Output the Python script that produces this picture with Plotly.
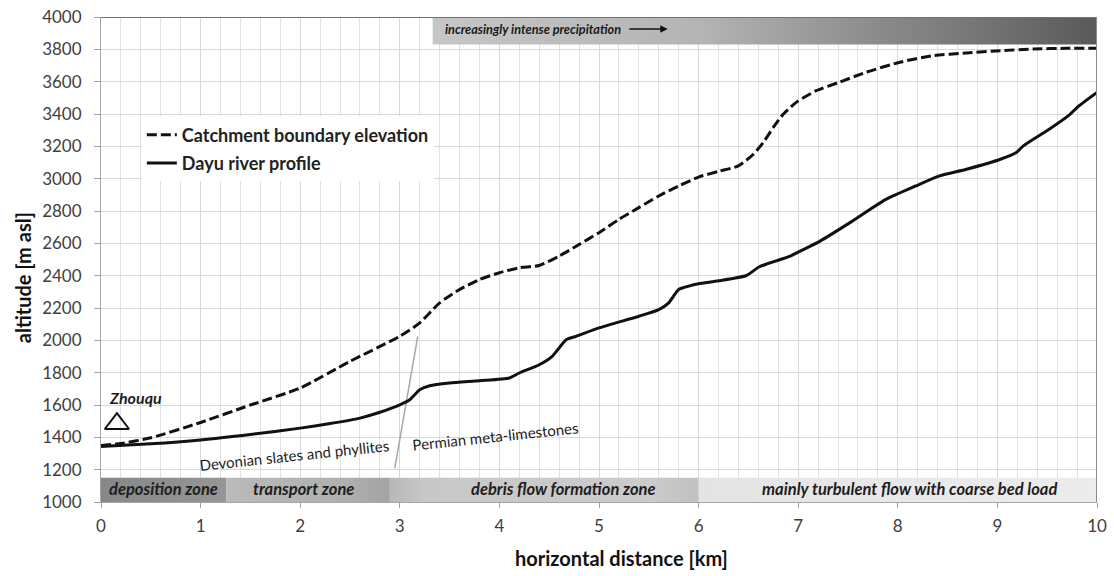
import plotly.graph_objects as go

# ---- data ----
river_km = [0, 0.5, 1.0, 1.5, 2.0, 2.3, 2.6, 2.8, 3.0, 3.1, 3.2, 3.3, 3.5, 3.8, 4.1, 4.2, 4.4, 4.53,
            4.6, 4.67, 4.77, 5.0, 5.4, 5.6, 5.7, 5.8, 5.9, 6.0, 6.2, 6.48, 6.61, 6.92, 7.02, 7.22,
            7.52, 7.88, 8.18, 8.42, 8.69, 9.03, 9.19, 9.26, 9.52, 9.72, 9.82, 10.0]
river_alt = [1343, 1360, 1384, 1418, 1457, 1485, 1519, 1555, 1601, 1632, 1694, 1719, 1736, 1750,
             1767, 1798, 1849, 1901, 1953, 2004, 2025, 2077, 2149, 2190, 2232, 2314, 2335, 2350,
             2368, 2401, 2455, 2521, 2552, 2614, 2728, 2872, 2955, 3017, 3058, 3120, 3162, 3203,
             3306, 3393, 3451, 3534]

catch_km = [0, 0.2, 0.5, 1.0, 1.5, 2.0, 2.5, 3.0, 3.2, 3.4, 3.6, 3.8, 4.0, 4.2, 4.4, 4.6, 4.8,
            5.0, 5.2, 5.4, 5.6, 5.8, 6.0, 6.2, 6.4, 6.55, 6.65, 6.75, 6.85, 6.98, 7.18, 7.41,
            7.68, 8.02, 8.35, 8.69, 9.03, 9.36, 9.70, 10.0]
catch_alt = [1350, 1362, 1397, 1492, 1600, 1705, 1870, 2025, 2108, 2232, 2314, 2376, 2418, 2449,
             2463, 2521, 2593, 2666, 2748, 2821, 2893, 2955, 3010, 3045, 3079, 3151, 3224, 3317,
             3399, 3472, 3544, 3596, 3658, 3720, 3761, 3777, 3792, 3802, 3806, 3806]

zone_names = ["deposition zone", "transport zone", "debris flow formation zone",
              "mainly turbulent flow with coarse bed load"]
zone_start = [0.0, 1.26, 2.9, 6.0]
zone_end = [1.26, 2.9, 6.0, 10.0]
zone_label_km = [0.63, 2.03, 4.64, 8.12]
zone_top_alt = 1150

precip_start_km = 3.33
precip_bottom_alt = 3830

contact_km = [2.95, 3.18]
contact_alt = [1210, 2025]

town_name = "Zhouqu"
town_km = 0.16
town_alt = 1484

x_ticks = list(range(0, 11))
y_ticks = list(range(1000, 4001, 200))

FONT = "Lato"

fig = go.Figure()

# zone bands (gradient fills)
zone_scales = [
    [[0, "#878787"], [1, "#969696"]],
    [[0, "#bababa"], [0.7, "#b0b0b0"], [1, "#a4a4a4"]],
    [[0, "#b8b8b8"], [0.12, "#c8c8c8"], [0.85, "#cbcbcb"], [1, "#c0c0c0"]],
    [[0, "#e4e4e4"], [1, "#ececec"]],
]
for s, e, cs in zip(zone_start, zone_end, zone_scales):
    fig.add_trace(go.Scatter(
        x=[s, e, e, s, s], y=[1000, 1000, zone_top_alt, zone_top_alt, 1000],
        mode="lines", line=dict(width=0), fill="toself",
        fillgradient=dict(type="horizontal", colorscale=cs),
        showlegend=False, hoverinfo="skip"))

# precipitation band
fig.add_trace(go.Scatter(
    x=[precip_start_km, 10, 10, precip_start_km, precip_start_km],
    y=[precip_bottom_alt, precip_bottom_alt, 4000, 4000, precip_bottom_alt],
    mode="lines", line=dict(width=0), fill="toself",
    fillgradient=dict(type="horizontal",
                      colorscale=[[0, "#c6c6c6"], [0.4, "#b4b4b4"], [1, "#5a5a5a"]]),
    showlegend=False, hoverinfo="skip"))

# geological contact
fig.add_trace(go.Scatter(x=contact_km, y=contact_alt, mode="lines",
                         line=dict(color="#a8a8a8", width=1.5),
                         showlegend=False, hoverinfo="skip"))

# main lines
fig.add_trace(go.Scatter(
    x=catch_km, y=catch_alt, mode="lines", name="Catchment boundary elevation",
    line=dict(color="#111111", width=3, dash="10px,4px", shape="spline", smoothing=0.6),
    legendgroup="a"))
fig.add_trace(go.Scatter(
    x=river_km, y=river_alt, mode="lines", name="Dayu river profile",
    line=dict(color="#111111", width=3, shape="spline", smoothing=0.6),
    legendgroup="b"))

# town marker
fig.add_trace(go.Scatter(
    x=[town_km], y=[town_alt], mode="markers",
    marker=dict(symbol="triangle-up-open", size=21, color="#111111", line=dict(width=2)),
    showlegend=False, hoverinfo="skip"))

ann = []
for name, km in zip(zone_names, zone_label_km):
    ann.append(dict(x=km, y=1083, xref="x", yref="y", text=f"<b><i>{name}</i></b>",
                    showarrow=False, font=dict(family=FONT, size=16.5, color="#1e1e1e")))
ann.append(dict(x=3.43, y=3926, xref="x", yref="y", xanchor="left", yanchor="middle",
                text="<b><i>increasingly intense precipitation</i></b>", showarrow=False,
                font=dict(family=FONT, size=12.7, color="#1a1a1a")))
ann.append(dict(x=5.69, y=3926, ax=5.29, ay=3926, xref="x", yref="y", axref="x", ayref="y",
                text="", showarrow=True, arrowhead=2, arrowsize=1, arrowwidth=1.5,
                arrowcolor="#111111"))
ann.append(dict(x=0.06, y=1645, xref="x", yref="y", xanchor="left", yanchor="middle",
                text=f"<b><i>{town_name}</i></b>", showarrow=False,
                font=dict(family=FONT, size=16, color="#1e1e1e")))
ann.append(dict(x=1.94, y=1291, xref="x", yref="y", text="Devonian slates and phyllites",
                textangle=-6, showarrow=False,
                font=dict(family=FONT, size=15, color="#1e1e1e")))
ann.append(dict(x=3.96, y=1409, xref="x", yref="y", text="Permian meta-limestones",
                textangle=-6, showarrow=False,
                font=dict(family=FONT, size=15, color="#1e1e1e")))
ann.append(dict(x=0.523, y=-0.115, xref="paper", yref="paper", xanchor="center",
                yanchor="middle", text="<b>horizontal distance [km]</b>", showarrow=False,
                font=dict(family=FONT, size=20, color="#111111")))
ann.append(dict(x=-0.078, y=0.462, xref="paper", yref="paper", xanchor="center",
                yanchor="middle", textangle=-90,
                text="<b>altitude [m asl]</b>", showarrow=False,
                font=dict(family=FONT, size=20, color="#111111")))

shapes = [
    dict(type="line", xref="x", yref="y", x0=0, x1=10, y0=4000, y1=4000,
         line=dict(color="#707070", width=2)),
    dict(type="line", xref="x", yref="y", x0=10, x1=10, y0=1000, y1=4000,
         line=dict(color="#8c8c8c", width=2)),
]

fig.update_layout(
    width=1114, height=576,
    margin=dict(l=101, r=17, t=17, b=74, autoexpand=False),
    paper_bgcolor="white", plot_bgcolor="white",
    font=dict(family=FONT, color="#404040"),
    annotations=ann, shapes=shapes,
    legend=dict(x=0.041, y=0.795, xanchor="left", yanchor="top", bgcolor="white",
                font=dict(family=FONT, size=18, color="#222222", weight="bold"),
                tracegroupgap=2, itemwidth=30),
    xaxis=dict(range=[0, 10], tickvals=x_ticks, ticks="outside", ticklen=5,
               tickcolor="#a0a0a0", showline=True, linecolor="#a6a6a6", linewidth=1,
               showgrid=True, gridcolor="#d9d9d9", zeroline=False, ticklabelstandoff=4,
               automargin=False,
               minor=dict(dtick=0.2, showgrid=True, gridcolor="#e2e2e2", ticks=""),
               tickfont=dict(family=FONT, size=17, color="#404040")),
    yaxis=dict(range=[1000, 4000], tickvals=y_ticks, ticks="outside", ticklen=6,
               tickcolor="#a0a0a0", showline=True, linecolor="#a6a6a6", linewidth=1,
               showgrid=True, gridcolor="#d9d9d9", zeroline=False, ticklabelstandoff=9,
               automargin=False,
               tickfont=dict(family=FONT, size=17, color="#404040")),
)

fig.write_html("out.html")
